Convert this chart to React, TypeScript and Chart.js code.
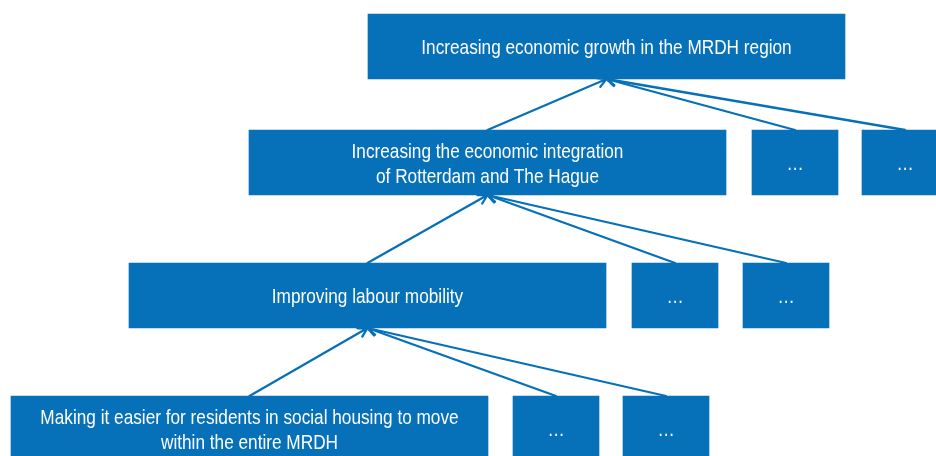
import React, { useEffect, useRef } from "react";
import { Chart, registerables } from "chart.js";

Chart.register(...registerables);

// Levels (top to bottom) – vertical centre of each row, in diagram units
const levelY = [46.5, 162.5, 295.5, 428.5];

// Main box of each level
const mainLabels = [
  "Increasing economic growth in the MRDH region",
  "Increasing the economic integration\nof Rotterdam and The Hague",
  "Improving labour mobility",
  "Making it easier for residents in social housing to move\nwithin the entire MRDH",
];
const mainStart = [368, 249, 129, 11];
const mainEnd = [845, 726, 606, 488];

// Side boxes ("…") for levels 2-4
const sideLevels = [1, 2, 3];
const sideAStart = [752, 632, 513];
const sideAEnd = [838, 718, 599];
const sideBStart = [862, 743, 623];
const sideBEnd = [948, 829, 709];
const sideLabel = "…";

const BLUE = "#0670B8";

export default function App() {
  const ref = useRef<HTMLCanvasElement>(null);

  useEffect(() => {
    const canvas = ref.current!;
    const mainData = levelY.map((y, i) => ({ x: [mainStart[i], mainEnd[i]], y }));
    const sideAData = sideLevels.map((l, i) => ({ x: [sideAStart[i], sideAEnd[i]], y: levelY[l] }));
    const sideBData = sideLevels.map((l, i) => ({ x: [sideBStart[i], sideBEnd[i]], y: levelY[l] }));

    const labelPlugin = {
      id: "boxLabels",
      afterDatasetsDraw(chart: any) {
        const ctx = chart.ctx;
        const drawText = (el: any, text: string) => {
          const cx = (el.x + el.base) / 2;
          const cy = el.y;
          const lines = text.split("\n");
          const lh = 25;
          ctx.save();
          ctx.fillStyle = "#ffffff";
          ctx.font = "21px 'Liberation Sans', Arial, sans-serif";
          ctx.textAlign = "center";
          ctx.textBaseline = "alphabetic";
          lines.forEach((ln, k) => {
            const y = cy + (k - (lines.length - 1) / 2) * lh + 7.8;
            ctx.save();
            ctx.translate(cx, y);
            ctx.scale(0.82, 1);
            ctx.fillText(ln, 0, 0);
            ctx.restore();
          });
          ctx.restore();
        };
        const m0 = chart.getDatasetMeta(0).data;
        m0.forEach((el: any, i: number) => drawText(el, mainLabels[i]));
        [1, 2].forEach((d) => {
          chart.getDatasetMeta(d).data.forEach((el: any) => drawText(el, sideLabel));
        });

        // arrows: child top centre -> parent bottom centre
        const arrow = (from: any, to: any) => {
          const x1 = (from.x + from.base) / 2;
          const y1 = from.y - from.height / 2;
          const x2 = (to.x + to.base) / 2;
          const y2 = to.y + to.height / 2;
          const ang = Math.atan2(y2 - y1, x2 - x1);
          const hl = 10;
          const ha = 0.5;
          ctx.save();
          ctx.strokeStyle = BLUE;
          ctx.lineWidth = 2.3;
          ctx.lineCap = "round";
          ctx.beginPath();
          ctx.moveTo(x1, y1);
          ctx.lineTo(x2, y2);
          ctx.moveTo(x2 - hl * Math.cos(ang - ha), y2 - hl * Math.sin(ang - ha));
          ctx.lineTo(x2, y2);
          ctx.lineTo(x2 - hl * Math.cos(ang + ha), y2 - hl * Math.sin(ang + ha));
          ctx.stroke();
          ctx.restore();
        };
        const mA = chart.getDatasetMeta(1).data;
        const mB = chart.getDatasetMeta(2).data;
        sideLevels.forEach((l, i) => {
          const parent = m0[l - 1];
          arrow(m0[l], parent);
          arrow(mA[i], parent);
          arrow(mB[i], parent);
        });
      },
    };

    const chart = new Chart(canvas, {
      type: "bar",
      data: {
        datasets: [
          { data: mainData as any, backgroundColor: BLUE, borderWidth: 0, barThickness: 65, grouped: false } as any,
          { data: sideAData as any, backgroundColor: BLUE, borderWidth: 0, barThickness: 65, grouped: false } as any,
          { data: sideBData as any, backgroundColor: BLUE, borderWidth: 0, barThickness: 65, grouped: false } as any,
        ],
      },
      options: {
        indexAxis: "y",
        responsive: false,
        animation: false,
        layout: { padding: 0 },
        scales: {
          x: { type: "linear", min: 0, max: 936, display: false, offset: false },
          y: { type: "linear", min: 0, max: 456, reverse: true, display: false, offset: false },
        },
        plugins: { legend: { display: false }, tooltip: { enabled: false } },
      },
      plugins: [labelPlugin],
    });
    return () => chart.destroy();
  }, []);

  return (
    <div style={{ position: "fixed", left: 0, top: 0, width: 936, height: 456, background: "#fff" }}>
      <canvas ref={ref} width={936} height={456} style={{ width: 936, height: 456, display: "block" }} />
    </div>
  );
}
